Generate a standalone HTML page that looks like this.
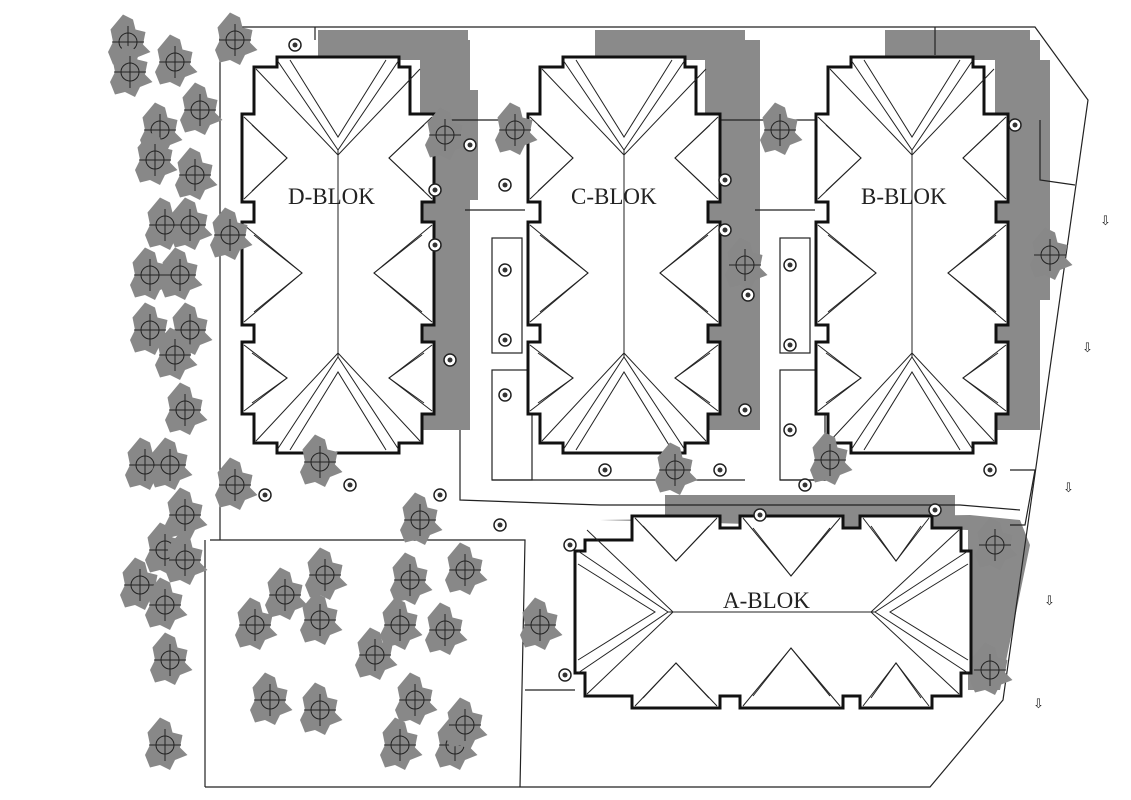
<!DOCTYPE html>
<html><head><meta charset="utf-8"><style>
html,body{margin:0;padding:0;background:#fff;width:1131px;height:800px;overflow:hidden}
svg{display:block}
text{font-family:"Liberation Serif",serif;font-size:23px;fill:#222}
</style></head><body>
<svg id="s" width="1131" height="800" viewBox="0 0 1131 800" xmlns="http://www.w3.org/2000/svg">
<defs>
<g id="bld">
<polygon points="35,0 157,0 157,10 168,10 168,57 192,57 192,145 180,145 180,165 192,165 192,268 180,268 180,285 192,285 192,357 180,357 180,386 157,386 157,396 35,396 35,386 12,386 12,357 0,357 0,285 12,285 12,268 0,268 0,165 12,165 12,145 0,145 0,57 12,57 12,10 35,10" fill="#fff" stroke="#111" stroke-width="3"/>
<g fill="none" stroke="#222" stroke-width="1">
<polyline points="35,3 96,93 157,3"/><polyline points="48,3 96,80 144,3"/>
<polyline points="14,12 96,98 178,12"/>
<line x1="96" y1="93" x2="96" y2="300"/>
<polyline points="35,393 96,300 157,393"/><polyline points="48,393 96,315 144,393"/>
<polyline points="14,384 96,296 178,384"/>
<polyline points="2,60 45,101 2,142"/><polyline points="10,68 45,101 10,134"/>
<polyline points="2,168 60,216 2,265"/><polyline points="12,178 60,216 12,255"/>
<polyline points="2,288 45,321 2,354"/><polyline points="10,296 45,321 10,346"/>
<polyline points="190,60 147,101 190,142"/><polyline points="182,68 147,101 182,134"/>
<polyline points="190,168 132,216 190,265"/><polyline points="180,178 132,216 180,255"/>
<polyline points="190,288 147,321 190,354"/><polyline points="182,296 147,321 182,346"/>
</g>
</g>
</defs>
<g fill="#8a8a8a">
<rect x="318" y="30" width="150" height="30"/><rect x="420" y="40" width="50" height="390"/><rect x="470" y="90" width="8" height="110"/>
<rect x="595" y="30" width="150" height="30"/><rect x="705" y="40" width="55" height="390"/>
<rect x="885" y="30" width="145" height="30"/><rect x="995" y="40" width="45" height="390"/><rect x="1030" y="60" width="20" height="240"/>
<rect x="665" y="495" width="290" height="25"/>
<polygon points="600,520 970,515 1020,520 1030,545 1000,690 968,690 968,530"/>
</g>
<g fill="none" stroke="#222" stroke-width="1.2">
<polyline points="220,27 1035,27 1088,100 1003,700 930,787 205,787"/>
<polyline points="220,27 220,540"/>
<polyline points="210,540 525,540 520,787"/>
<line x1="205" y1="540" x2="205" y2="787"/>
<line x1="525" y1="690" x2="575" y2="690"/>
<polyline points="460,430 460,500 600,505 960,505 1020,510"/>
<polyline points="440,120 540,120"/><polyline points="720,120 820,120"/>
<polyline points="465,210 525,210"/><polyline points="755,210 815,210"/>
<rect x="492" y="238" width="30" height="115"/><rect x="492" y="370" width="40" height="110"/>
<rect x="780" y="238" width="30" height="115"/><rect x="780" y="370" width="45" height="110"/>
<polyline points="492,480 745,480"/><polyline points="780,480 830,480"/>
<polyline points="1040,120 1040,180 1075,185"/><polyline points="1010,470 1035,470 1025,525 1010,525"/>
<line x1="315" y1="27" x2="315" y2="40"/><line x1="935" y1="27" x2="935" y2="55"/>
</g>
<use href="#bld" x="242" y="57"/>
<use href="#bld" x="528" y="57"/>
<use href="#bld" x="816" y="57"/>
<use href="#bld" transform="translate(575,708) rotate(-90)"/>
<text x="288" y="204">D-BLOK</text>
<text x="571" y="204">C-BLOK</text>
<text x="861" y="204">B-BLOK</text>
<text x="723" y="608">A-BLOK</text>
<g id="trees"></g>
<g fill="#333" font-family="DejaVu Sans">
<text x="1100" y="225" style="font-size:13px;font-family:'DejaVu Sans'">⇩</text><text x="1082" y="352" style="font-size:13px;font-family:'DejaVu Sans'">⇩</text>
<text x="1063" y="492" style="font-size:13px;font-family:'DejaVu Sans'">⇩</text><text x="1044" y="605" style="font-size:13px;font-family:'DejaVu Sans'">⇩</text>
<text x="1033" y="708" style="font-size:13px;font-family:'DejaVu Sans'">⇩</text>
</g>
</svg>
<script>
var big=[[128,42],[130,72],[175,62],[235,40],[160,130],[200,110],[155,160],[195,175],[165,225],[190,225],[150,275],[180,275],[150,330],[190,330],[175,355],[185,410],[145,465],[170,465],[185,515],[165,550],[185,560],[140,585],[165,605],[170,660],[165,745],[235,485],[320,462],[420,520],[230,235],[325,575],[285,595],[255,625],[320,620],[410,580],[465,570],[400,625],[445,630],[375,655],[270,700],[320,710],[415,700],[400,745],[455,745],[465,725],[445,135],[515,130],[745,265],[780,130],[675,470],[830,460],[540,625],[995,545],[990,670],[1050,255]];
var small=[[295,45],[265,495],[350,485],[440,495],[500,525],[470,145],[505,185],[505,270],[505,340],[505,395],[725,180],[725,230],[790,265],[748,295],[790,345],[790,430],[745,410],[605,470],[720,470],[805,485],[990,470],[935,510],[760,515],[570,545],[565,675],[1015,125],[435,190],[435,245],[450,360]];
var h='';
big.forEach(function(p){var x=p[0],y=p[1];
h+='<g transform="translate('+x+' '+y+') scale(1.25)"><path d="M-4 -22l8 4 2 8 8 2-2 10 6 6-10 4-4 8-8-4-8 2-4-10 4-8-2-10z" fill="#888"/></g>';
h+='<circle cx="'+x+'" cy="'+y+'" r="9" fill="none" stroke="#222"/>';
h+='<path d="M'+(x-16)+' '+y+'h32M'+x+' '+(y-16)+'v32" stroke="#222"/>';});
small.forEach(function(p){var x=p[0],y=p[1];
h+='<circle cx="'+x+'" cy="'+y+'" r="6" fill="#fff" stroke="#222" stroke-width="1.5"/><circle cx="'+x+'" cy="'+y+'" r="2.5" fill="#333"/>';});
document.getElementById('trees').innerHTML=h;
</script>
</body></html>
